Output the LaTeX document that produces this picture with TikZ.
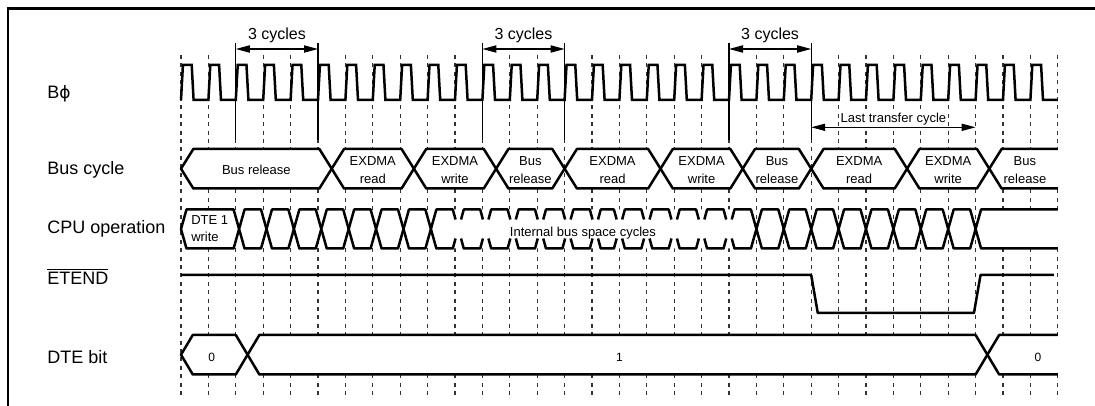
\documentclass[tikz,border=0pt]{standalone}
\usepackage{fontspec}
\setmainfont{Liberation Sans}
\newfontfamily\symfont{DejaVu Sans}
\usetikzlibrary{arrows.meta}

\begin{document}
\begin{tikzpicture}[x=13.7pt,y=-0.5pt,>={Triangle[length=7pt,width=3.6pt]},
  sig/.style={line width=1.25pt,line join=round},
  wave/.style={sig,fill=white},
  guide/.style={line width=0.55pt,black!80,dash pattern=on 2pt off 2.2pt},
  dimline/.style={line width=0.6pt},
  rowlbl/.style={anchor=base west,inner sep=0pt,font=\fontsize{9}{11}\selectfont},
  inlbl/.style={align=center,inner sep=0pt,font=\fontsize{6.5}{9}\selectfont},
  bitlbl/.style={anchor=base,inner sep=0pt,font=\fontsize{6}{7}\selectfont}]
  \useasboundingbox (-6.606,0) rectangle (33.358,406);
  % marco
  \draw[line width=1.3pt] (-6.314,406) -- (-6.314,8.5) -- (33.358,8.5);
  % lineas guia
  \foreach \k in {0,...,32} \draw[guide] (\k,55) -- (\k,398);
  % nombres de las senales
  \node[rowlbl] (clk) at (-4.89,99) {B{\symfont\fontsize{8.5}{10}\selectfont ϕ}};
  \node[rowlbl] (bus) at (-4.89,175) {Bus cycle};
  \node[rowlbl] (cpu) at (-4.89,233.3) {CPU operation};
  \node[rowlbl] (etend) at (-4.89,285) {$\overline{\hbox{ETEND}}$};
  \node[rowlbl] (dte) at (-4.89,363.3) {DTE bit};
  % reloj
  \draw[sig,line join=miter] (0,100) \foreach \k in {0,...,31}{ -- (\k+0.07,65) -- (\k+0.39,65) -- (\k+0.46,100) -- (\k+1,100)};
  % 3 ciclos
  \foreach \k in {2,5,11,14,20,23} \draw[dimline] (\k,43) -- (\k,140);
  \foreach \a/\b [count=\i] in {2/5,11/14,20/23}{
    \coordinate (cs\i) at (\a,49);
    \coordinate (ce\i) at (\b,49);
    \draw[dimline,<->] (cs\i) -- (ce\i);
    \node[anchor=base,inner sep=0pt,font=\fontsize{8}{10}\selectfont] (cyc\i) at ({(\a+\b)/2},39.5) {3 cycles};
  }
  % ultimo ciclo de transferencia
  \coordinate (lts) at (23,127.3);
  \coordinate (lte) at (29,127.3);
  \draw[dimline,<->] (lts) -- (lte);
  \node[inlbl,anchor=base,fill=white,inner xsep=1pt,inner ysep=0.5pt] (ltc) at (26,122.3) {Last transfer cycle};
  % ciclo de bus
  \foreach \a/\b/\txt [count=\i] in {0/5.5/{Bus release},5.5/8.5/{EXDMA\\read},8.5/11.5/{EXDMA\\write},
      11.5/14/{Bus\\release},14/17.5/{EXDMA\\read},17.5/20.5/{EXDMA\\write},20.5/23/{Bus\\release},
      23/26.5/{EXDMA\\read},26.5/29.5/{EXDMA\\write}}{
    \draw[wave] (\a,168.7) -- (\a+0.45,149) -- (\b-0.45,149) -- (\b,168.7) -- (\b-0.45,188.5) -- (\a+0.45,188.5) -- cycle;
    \node[inlbl] (bus\i) at ({(\a+\b)/2},170) {\txt};
  }
  \draw[wave] (32,149) -- (29.95,149) -- (29.5,168.7) -- (29.95,188.5) -- (32,188.5);
  \node[inlbl] (bus10) at (30.8,170) {Bus\\release};
  % operacion de la CPU
  \draw[wave] (0,229) -- (0.2,209.5) -- (1.92,209.5) -- (2.12,229) -- (1.92,248.5) -- (0.2,248.5) -- cycle;
  \node[inlbl,align=left,anchor=west,font=\fontsize{6.5}{8.3}\selectfont] (dtew) at (0.36,228.7) {DTE 1\\write};
  \foreach \a in {2.12,3.12,...,8.12} \draw[wave] (\a,229) -- (\a+0.2,209.5) -- (\a+0.8,209.5) -- (\a+1,229) -- (\a+0.8,248.5) -- (\a+0.2,248.5) -- cycle;
  \fill[white] (9.12,229) -- (9.32,209.5) -- (20.8,209.5) -- (21,229) -- (20.8,248.5) -- (9.32,248.5) -- cycle;
  \draw[sig] (9.12,229) -- (9.32,209.5) \foreach \k in {10.12,11.12,...,15.12,16,17,...,20}{ -- (\k-0.2,209.5) -- (\k-0.1,219.5) (\k+0.1,219.5) -- (\k+0.2,209.5)} -- (20.8,209.5) -- (21,229);
  \draw[sig] (9.12,229) -- (9.32,248.5) \foreach \k in {10.12,11.12,...,15.12,16,17,...,20}{ -- (\k-0.2,248.5) -- (\k-0.1,238.5) (\k+0.1,238.5) -- (\k+0.2,248.5)} -- (20.8,248.5) -- (21,229);
  \node[inlbl,anchor=base] (ibs) at (14.67,236.5) {Internal bus space cycles};
  \foreach \a in {21,...,28} \draw[wave] (\a,229) -- (\a+0.2,209.5) -- (\a+0.8,209.5) -- (\a+1,229) -- (\a+0.8,248.5) -- (\a+0.2,248.5) -- cycle;
  \draw[wave] (32,209.5) -- (29.2,209.5) -- (29,229) -- (29.2,248.5) -- (32,248.5);
  % ETEND
  \draw[sig] (0,275) -- (23,275) -- (23.24,313) -- (28.94,313) -- (29.18,275) -- (31.86,275);
  % bit DTE
  \draw[wave] (0,354.7) -- (0.43,335) -- (2,335) -- (2.43,354.7) -- (2,374.5) -- (0.43,374.5) -- cycle;
  \draw[wave] (2.43,354.7) -- (2.86,335) -- (29,335) -- (29.43,354.7) -- (29,374.5) -- (2.86,374.5) -- cycle;
  \draw[wave] (32,335) -- (29.86,335) -- (29.43,354.7) -- (29.86,374.5) -- (32,374.5);
  \node[bitlbl] (bit0) at (1.12,361.7) {0};
  \node[bitlbl] (bit1) at (16,361.7) {1};
  \node[bitlbl] (bit2) at (31.28,361.7) {0};
\end{tikzpicture}
\end{document}
